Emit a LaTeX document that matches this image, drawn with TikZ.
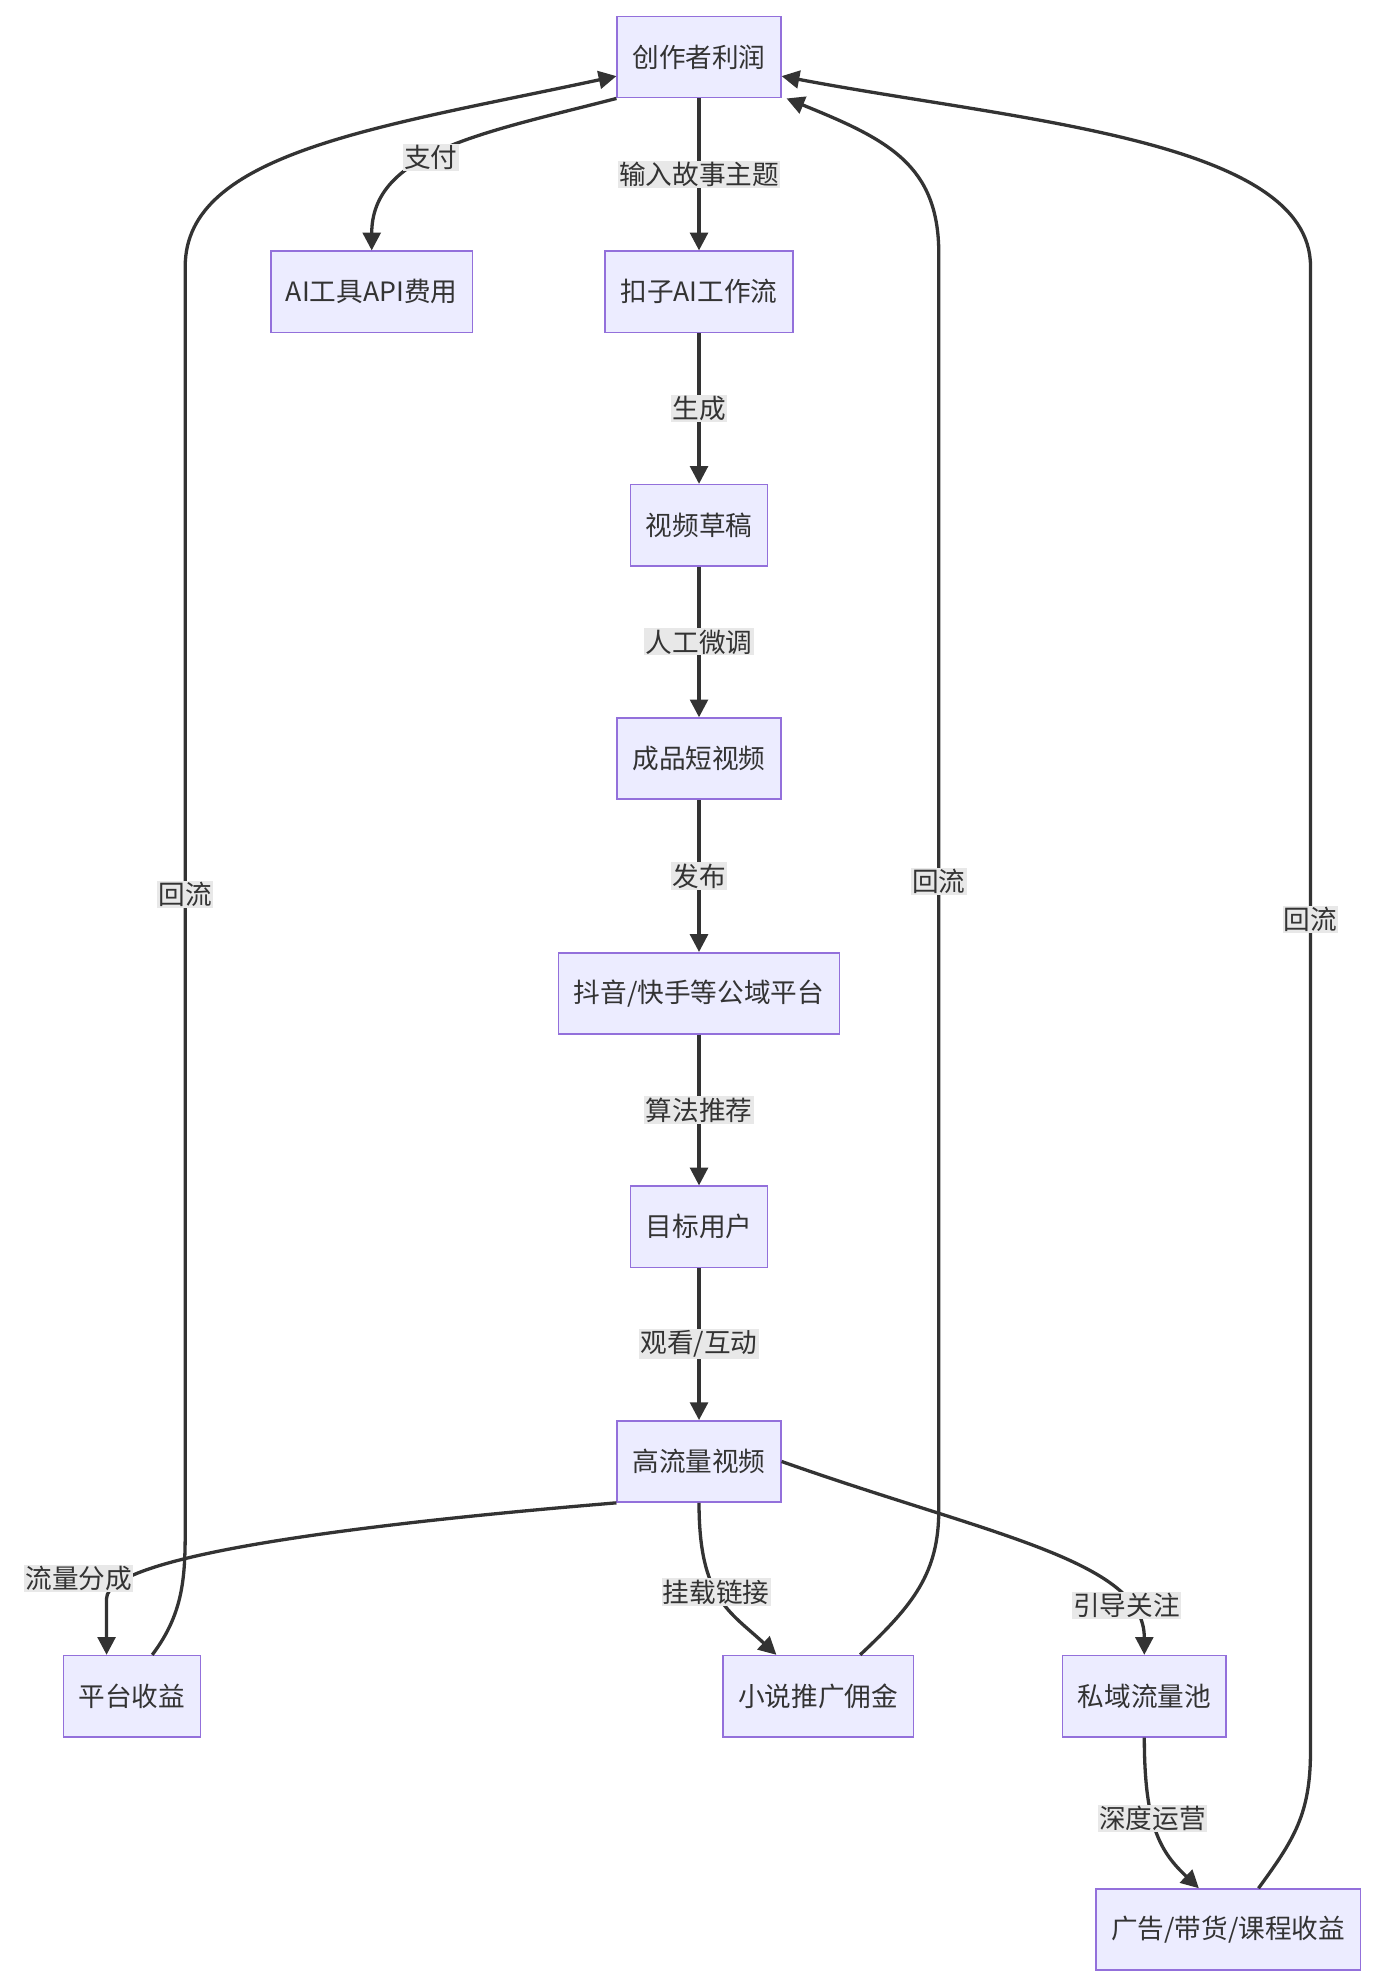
\documentclass[tikz,border=0pt]{standalone}
\usepackage{fontspec}
\newfontfamily\cjk{Noto Sans CJK SC}
\usetikzlibrary{arrows.meta}
\definecolor{boxfill}{HTML}{ECECFF}
\definecolor{boxline}{HTML}{9370DB}
\definecolor{edge}{HTML}{333333}
\definecolor{lblbg}{HTML}{E8E8E8}
\begin{document}
\begin{tikzpicture}[
  x=1pt, y=-1pt,
  box/.style={draw=boxline, fill=boxfill, line width=1.2pt, minimum height=64pt,
    inner xsep=12pt, font=\cjk\fontsize{21}{24}\selectfont, text=edge},
  flow/.style={draw=edge, line width=2.6pt, -{Triangle[length=14pt,width=14pt]}},
  lbl/.style={fill=lblbg, inner sep=1pt, font=\cjk\fontsize{21}{24}\selectfont, text=edge},
]
\useasboundingbox (0,0) rectangle (1100,1556);

\node [box] (profit) at (551,45) {创作者利润};
\node [box] (api) at (293,230) {AI工具API费用};
\node [box] (coze) at (551,230) {扣子AI工作流};
\node [box] (draft) at (551,414) {视频草稿};
\node [box] (video) at (551,598) {成品短视频};
\node [box] (platform) at (551,783) {抖音/快手等公域平台};
\node [box] (user) at (551,967) {目标用户};
\node [box] (hot) at (551,1152) {高流量视频};
\node [box] (platrev) at (104,1337) {平台收益};
\node [box] (novel) at (645,1337) {小说推广佣金};
\node [box] (private) at (902,1337) {私域流量池};
\node [box] (ads) at (968,1521) {广告/带货/课程收益};

% main chain
\draw [flow] (profit) -- node [lbl] {输入故事主题} (coze);
\draw [flow] (coze) -- node [lbl] {生成} (draft);
\draw [flow] (draft) -- node [lbl] {人工微调} (video);
\draw [flow] (video) -- node [lbl] {发布} (platform);
\draw [flow] (platform) -- node [lbl] {算法推荐} (user);
\draw [flow] (user) -- node [lbl] {观看/互动} (hot);

% branches
\draw [flow] (profit.south west) .. controls (380,105) and (293,120) .. node [lbl, pos=0.55] {支付} (api.north);
\draw [flow] (hot.south west) .. controls (300,1200) and (84,1225) .. (84,1260) -- (platrev.north -| 84,0);
\node [lbl] (lshare) at (62,1244) {流量分成};
\draw [flow] (hot.south) .. controls (551,1260) and (575,1270) .. node [lbl, pos=0.45] {挂载链接} (novel.north -| 612,0);
\draw [flow] (hot.east) .. controls (780,1210) and (902,1230) .. node [lbl, pos=0.8] {引导关注} (private.north);
\draw [flow] (private.south) .. controls (902,1440) and (915,1460) .. node [lbl, pos=0.4] {深度运营} (ads.north -| 945,0);

% return flows
\draw [flow] (platrev.north -| 120,0) .. controls (146,1270) and (146,1240) .. (146,1200)
  -- node [lbl, pos=0.5] {回流} (146,210) .. controls (146,120) and (300,100) .. (profit.west |- 0,60);
\draw [flow] (novel.north -| 678,0) .. controls (720,1265) and (740,1240) .. (740,1190)
  -- node [lbl, pos=0.5] {回流} (740,200) .. controls (740,130) and (700,110) .. (profit.south east -| 620,0);
\draw [flow] (ads.north -| 992,0) .. controls (1020,1450) and (1033,1430) .. (1033,1380)
  -- node [lbl, pos=0.56] {回流} (1033,210) .. controls (1033,110) and (800,95) .. (profit.east |- 0,60);
\end{tikzpicture}
\end{document}
